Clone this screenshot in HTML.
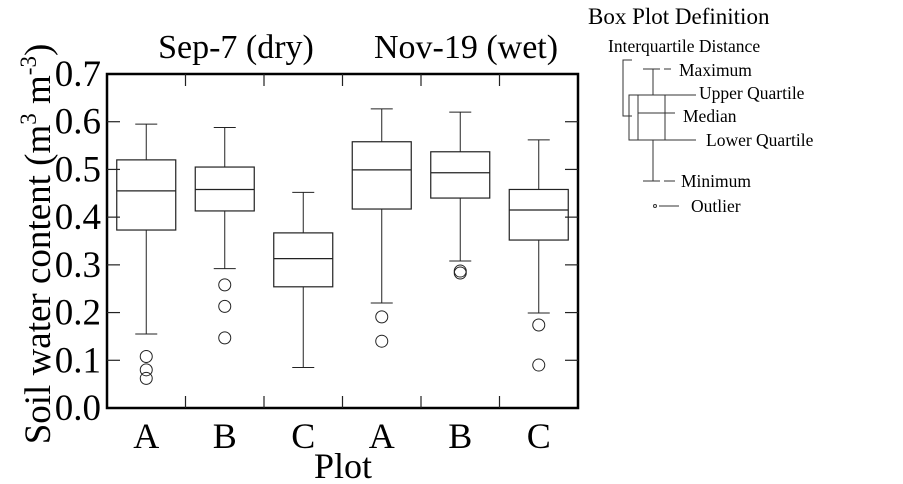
<!DOCTYPE html>
<html><head><meta charset="utf-8"><style>
body{margin:0;background:#fff;}
svg{display:block;font-family:"Liberation Serif",serif;}
</style></head><body>
<svg id="chart" width="903" height="484" viewBox="0 0 903 484"></svg>
<script>
const categories=["A","B","C","A","B","C"];
const maxVals=[0.595,0.588,0.452,0.627,0.620,0.562];
const q3Vals=[0.520,0.505,0.367,0.558,0.537,0.458];
const medVals=[0.455,0.458,0.313,0.499,0.493,0.415];
const q1Vals=[0.373,0.413,0.254,0.417,0.440,0.352];
const minVals=[0.155,0.292,0.085,0.220,0.308,0.199];
const outliers=[[0.108,0.080,0.062],[0.258,0.213,0.147],[],[0.191,0.140],[0.287,0.283],[0.174,0.090]];
const yTicks=["0.0","0.1","0.2","0.3","0.4","0.5","0.6","0.7"];

const NS="http://www.w3.org/2000/svg";
const svg=document.getElementById('chart');
const L=107,R=578,T=74,B=408,ymax=0.7;
const slot=(R-L)/categories.length;
function xS(i){return L+slot*(i+0.5);}
function yS(v){return B-(v/ymax)*(B-T);}
function mk(tag,attrs,parent){const e=document.createElementNS(NS,tag);for(const k in attrs)e.setAttribute(k,attrs[k]);(parent||svg).appendChild(e);return e;}
function line(x1,y1,x2,y2,sw,p){return mk('line',{x1,y1,x2,y2,stroke:'#222','stroke-width':sw||1},p);}
function text(x,y,s,size,anchor,p){const t=mk('text',{x,y,'font-size':size,'text-anchor':anchor||'start',fill:'#000'},p);t.textContent=s;return t;}

const frame=mk('rect',{x:L,y:T,width:R-L,height:B-T,fill:'none',stroke:'#000','stroke-width':2.5});



yTicks.forEach((lab,i)=>{
  const v=parseFloat(lab);const y=yS(v);
  if(i>0&&i<yTicks.length-1){line(L,y,L+13,y,1.2);line(R-13,y,R,y,1.2);}
  const t=text(101,y+12,lab,37,'end');
  
  
});
for(let i=1;i<categories.length;i++){const x=L+slot*i;line(x,T,x,T+12,1.2);line(x,B-12,x,B,1.2);}

categories.forEach((c,i)=>{
  const g=mk('g',{});
  
  
  const x=xS(i),hw=29.5,cw=11;
  line(x,yS(maxVals[i]),x,yS(q3Vals[i]),1,g);
  line(x,yS(q1Vals[i]),x,yS(minVals[i]),1,g);
  line(x-cw,yS(maxVals[i]),x+cw,yS(maxVals[i]),1,g);
  line(x-cw,yS(minVals[i]),x+cw,yS(minVals[i]),1,g);
  mk('rect',{x:x-hw,y:yS(q3Vals[i]),width:2*hw,height:yS(q1Vals[i])-yS(q3Vals[i]),fill:'none',stroke:'#222','stroke-width':1.2},g);
  line(x-hw,yS(medVals[i]),x+hw,yS(medVals[i]),1.2,g);
  outliers[i].forEach(v=>{
    const o=mk('circle',{cx:x,cy:yS(v),r:6,fill:'none',stroke:'#222','stroke-width':1},g);
    
    
  });
  const t=text(x,448,c,36,'middle');
  
  
});
</script>
<script>
(function(){
const NS="http://www.w3.org/2000/svg";const svg=document.getElementById('chart');
function t(x,y,s,size,anchor,name){const e=document.createElementNS(NS,'text');e.setAttribute('x',x);e.setAttribute('y',y);e.setAttribute('font-size',size);e.setAttribute('text-anchor',anchor);e.textContent=s;


svg.appendChild(e);return e;}
t(236,58,'Sep-7 (dry)',34,'middle','title-sep7');
t(466,58,'Nov-19 (wet)',34,'middle','title-nov19');
t(343,478,'Plot',36,'middle','x-axis-title');
const yl=document.createElementNS(NS,'text');
yl.setAttribute('transform','translate(50,244) rotate(-90)');
yl.setAttribute('text-anchor','middle');yl.setAttribute('font-size',37);
yl.innerHTML='Soil water content (m<tspan dy="-14" font-size="23">3</tspan><tspan dy="14"> m</tspan><tspan dy="-14" font-size="23">-3</tspan><tspan dy="14">)</tspan>';


svg.appendChild(yl);
})();
</script>
<script>
(function(){
const NS="http://www.w3.org/2000/svg";const svg=document.getElementById('chart');
const g=document.createElementNS(NS,'g');


g.setAttribute('stroke','#333');g.setAttribute('fill','none');g.setAttribute('stroke-width','1');
g.innerHTML=
'<polyline points="632,60 623,60 623,116 632,116"/>'+
'<polyline points="638,95 629,95 629,140 638,140"/>'+
'<rect x="638" y="95" width="27" height="45"/>'+
'<line x1="638" y1="113" x2="675" y2="113"/>'+
'<line x1="653" y1="69" x2="653" y2="95"/><line x1="653" y1="140" x2="653" y2="181"/>'+
'<line x1="643" y1="69" x2="660" y2="69"/><line x1="643" y1="181" x2="660" y2="181"/>'+
'<line x1="664" y1="69" x2="671" y2="69"/><line x1="664" y1="181" x2="675" y2="181"/>'+
'<line x1="665" y1="95" x2="696" y2="95"/><line x1="665" y1="140" x2="696" y2="140"/>'+
'<circle cx="655" cy="206" r="1.5"/><line x1="659" y1="206" x2="679" y2="206"/>';
svg.appendChild(g);
const items=[[588,24,'Box Plot Definition',23,'legend-title'],[608,52,'Interquartile Distance',17.5,'legend-iqr'],[679,76,'Maximum',17.5,'legend-maximum'],[699,99,'Upper Quartile',17.5,'legend-upper-quartile'],[683,122,'Median',17.5,'legend-median'],[706,146,'Lower Quartile',17.5,'legend-lower-quartile'],[681,187,'Minimum',17.5,'legend-minimum'],[691,212,'Outlier',17.5,'legend-outlier']];
items.forEach(a=>{const e=document.createElementNS(NS,'text');e.setAttribute('x',a[0]);e.setAttribute('y',a[1]);e.setAttribute('font-size',a[3]);e.textContent=a[2];


svg.appendChild(e);});
})();
</script>
</body></html>
